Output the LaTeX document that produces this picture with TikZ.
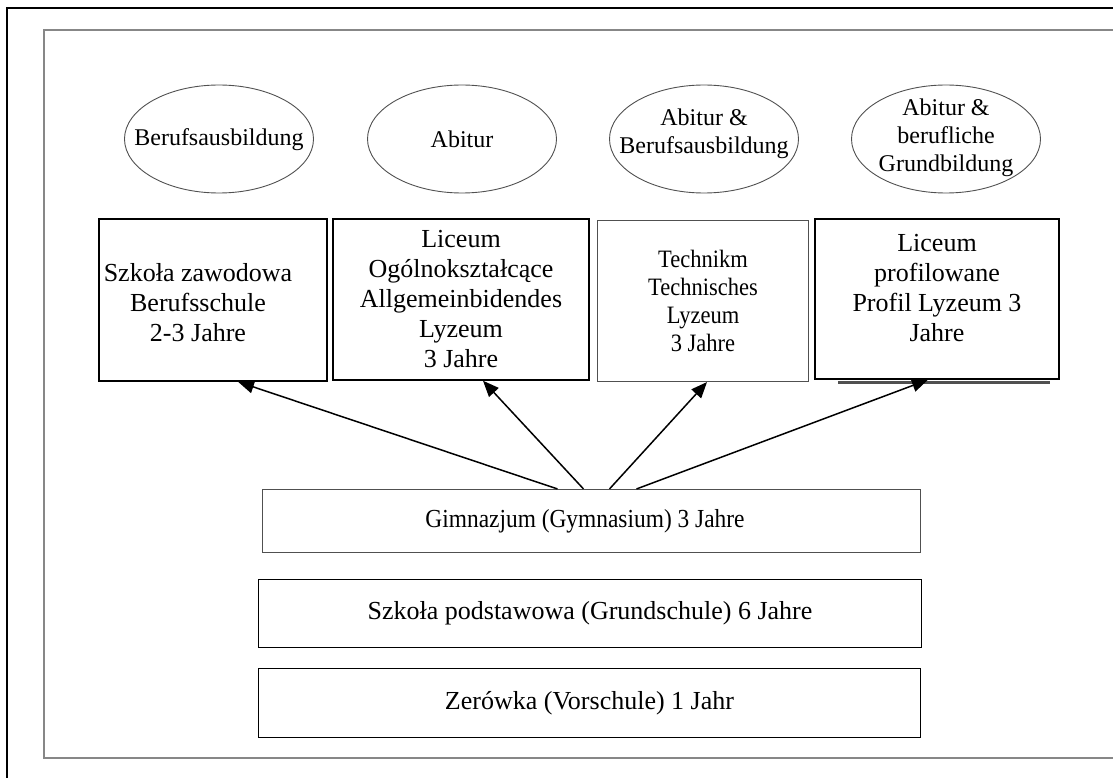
\documentclass[tikz,border=0pt]{standalone}
\usepackage{fontspec}
\setmainfont{Liberation Serif}
\newfontfamily\narrowfont[FakeStretch=0.9]{Liberation Serif}
\usetikzlibrary{arrows.meta, positioning, shapes}
\definecolor{my_gray}{RGB}{80, 80, 80}
\definecolor{my_frame}{RGB}{135, 135, 135}
\tikzset {
  frame/.style = {draw=my_frame, line width=1.5pt},
  goal/.style = {draw=my_gray, ellipse, line width=0.9pt, minimum width=189pt, minimum height=108pt, inner sep=0pt},
  goaltext/.style = {align=center, inner sep=0pt, font=\fontsize{24pt}{28pt}\selectfont},
  school/.style = {draw, line width=1.5pt, rectangle, align=center, font=\fontsize{26pt}{30pt}\selectfont},
  thinschool/.style = {school, draw=my_gray, line width=1.1pt, font=\narrowfont\fontsize{25pt}{28pt}\selectfont},
  boxtext/.style = {align=center, inner sep=0pt, font=\fontsize{26pt}{30pt}\selectfont},
  line/.style = {->, line width=1.5pt, >={Triangle[length=16pt, width=13pt]}},
  shadowline/.style = {draw=my_gray, line width=2.5pt}
}

\begin{document}
\begin{tikzpicture}[x=1pt, y=-1pt]
    \useasboundingbox (0,0) rectangle (1113,778);
    \clip (0,0) rectangle (1113,778);
    \draw[line width=1.6pt] (7,8) rectangle (1140,800);
    \draw[frame] (44,30) rectangle (1140,758);

    % goals
    \node[goal, label={[goaltext, yshift=-1pt]center:Berufsausbildung}] (beruf) at (219,139) {};
    \node[goal, label={[goaltext]center:Abitur}] (abitur) at (462,139) {};
    \node[goal, label={[goaltext, yshift=5pt]center:Abitur \&\\Berufsausbildung}] (abiberuf) at (704,139) {};
    \node[goal, label={[goaltext, yshift=1pt]center:Abitur \&\\berufliche\\Grundbildung}] (abigrund) at (946,139) {};

    % upper schools
    \node[school, minimum width=228pt, minimum height=162pt] (zaw) at (213,300) {};
    \node[boxtext] (zawtext) at (198,303) {Szkoła zawodowa\\Berufsschule\\2-3 Jahre};
    \node[school, minimum width=256pt, minimum height=161pt] (lic) at (461,299.5) {Liceum\\Ogólnokształcące\\Allgemeinbidendes\\Lyzeum\\3 Jahre};
    \node[thinschool, minimum width=211pt, minimum height=161pt] (tech) at (703,301) {Technikm\\Technisches\\Lyzeum\\3 Jahre};
    \node[school, minimum width=244pt, minimum height=160pt] (prof) at (937,299) {};
    \node[boxtext] (proftext) at (937,288) {Liceum\\profilowane\\Profil Lyzeum 3\\Jahre};
    \draw[shadowline] ([xshift=24pt, yshift=-2.5pt]prof.south west) -- ([xshift=-10pt, yshift=-2.5pt]prof.south east);

    % lower schools
    \node[thinschool, minimum width=658pt, minimum height=63pt] (gim) at (591.5,521) {};
    \node[boxtext, font=\narrowfont\fontsize{26pt}{30pt}\selectfont] (gimtext) at (585,521) {Gimnazjum (Gymnasium) 3 Jahre};
    \node[school, minimum width=663pt, minimum height=68pt] (pod) at (590,613.5) {Szkoła podstawowa (Grundschule) 6 Jahre};
    \node[school, minimum width=662pt, minimum height=69pt] (zer) at (589.5,703) {Zerówka (Vorschule) 1 Jahr};

    \draw[line] ([xshift=-34pt]gim.north) -- ([xshift=25pt]zaw.south);
    \draw[line] ([xshift=-8pt]gim.north) -- ([xshift=22pt]lic.south);
    \draw[line] ([xshift=18pt]gim.north) -- ([xshift=4pt]tech.south);
    \draw[line] ([xshift=45pt]gim.north) -- ([xshift=-9pt]prof.south);

\end{tikzpicture}
\end{document}
